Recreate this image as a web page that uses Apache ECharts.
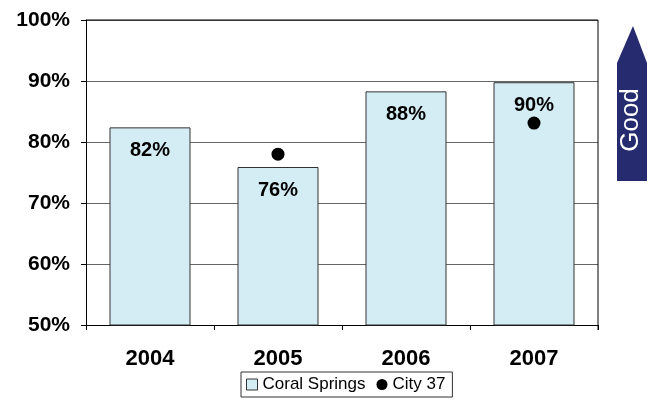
<!DOCTYPE html>
<html>
<head>
<meta charset="utf-8">
<script src="https://cdn.jsdelivr.net/npm/echarts@6/dist/echarts.min.js"></script>
<style>
  html, body { margin: 0; padding: 0; background: #fff; }
  #chart { width: 648px; height: 400px; }
</style>
</head>
<body>
<div id="chart"></div>
<script>
const years = ['2004', '2005', '2006', '2007'];
const coralSprings = [82.4, 75.9, 88.3, 89.8];
const coralLabels = ['82%', '76%', '88%', '90%'];
const city37 = [null, 78, null, 83.1];

const FONT = 'Liberation Sans, Arial, sans-serif';

const chart = echarts.init(document.getElementById('chart'));

chart.setOption({
  animation: false,
  grid: { left: 86, right: 50, top: 20, bottom: 75, show: false },
  legend: {
    left: 241, top: 372,
    itemWidth: 11, itemHeight: 11, itemGap: 11,
    padding: [4, 7, 4, 5],
    borderColor: '#333', borderWidth: 1, borderRadius: 0,
    textStyle: { fontFamily: FONT, fontSize: 17, color: '#000' },
    data: [
      { name: 'Coral Springs', icon: 'rect', itemStyle: { color: '#d4ecf3', borderColor: '#333', borderWidth: 1 } },
      { name: 'City 37', icon: 'circle', itemStyle: { color: '#000', opacity: 1 } }
    ]
  },
  xAxis: {
    type: 'category',
    data: years,
    axisLine: { lineStyle: { color: '#000', width: 1 } },
    axisTick: { show: true, length: 5, interval: 0, lineStyle: { color: '#000' } },
    axisLabel: { fontFamily: FONT, fontSize: 22, fontWeight: 'bold', color: '#000', margin: 23 }
  },
  yAxis: {
    type: 'value',
    min: 50, max: 100, interval: 10,
    axisLine: { show: true, lineStyle: { color: '#000', width: 1 } },
    axisTick: { show: true, length: 5, inside: false, lineStyle: { color: '#000' } },
    axisLabel: { fontFamily: FONT, fontSize: 21, fontWeight: 'bold', color: '#000', margin: 16, formatter: '{value}%' },
    splitLine: { show: true, lineStyle: { color: '#666', width: 1 } }
  },
  series: [
    {
      name: 'Coral Springs',
      type: 'bar',
      data: coralSprings,
      barWidth: 81,
      itemStyle: { color: '#d4ecf3', borderColor: '#333', borderWidth: 1 },
      label: {
        show: true, position: 'insideTop', distance: 13,
        fontFamily: FONT, fontSize: 20, fontWeight: 'bold', color: '#000',
        formatter: p => coralLabels[p.dataIndex]
      },
      z: 2
    },
    {
      name: 'City 37',
      type: 'scatter',
      data: city37,
      symbol: 'circle',
      symbolSize: 13,
      itemStyle: { color: '#000', opacity: 1 },
      z: 5
    }
  ],
  graphic: [
    {
      type: 'line',
      shape: { x1: 86, y1: 20, x2: 598, y2: 20 },
      style: { stroke: '#000', lineWidth: 1 }, z: 10
    },
    {
      type: 'line',
      shape: { x1: 598, y1: 20, x2: 598, y2: 330 },
      style: { stroke: '#000', lineWidth: 1 }, z: 10
    },
    {
      type: 'polygon',
      shape: { points: [[617, 63], [633, 26], [647, 63], [647, 181], [617, 181]] },
      style: { fill: '#262a6e' }
    },
    {
      type: 'text',
      x: 631, y: 120,
      rotation: Math.PI / 2,
      style: {
        text: 'Good', fill: '#fff', fontFamily: FONT, fontSize: 26,
        align: 'center', verticalAlign: 'middle'
      },
      z: 11
    }
  ]
});
</script>
</body>
</html>
